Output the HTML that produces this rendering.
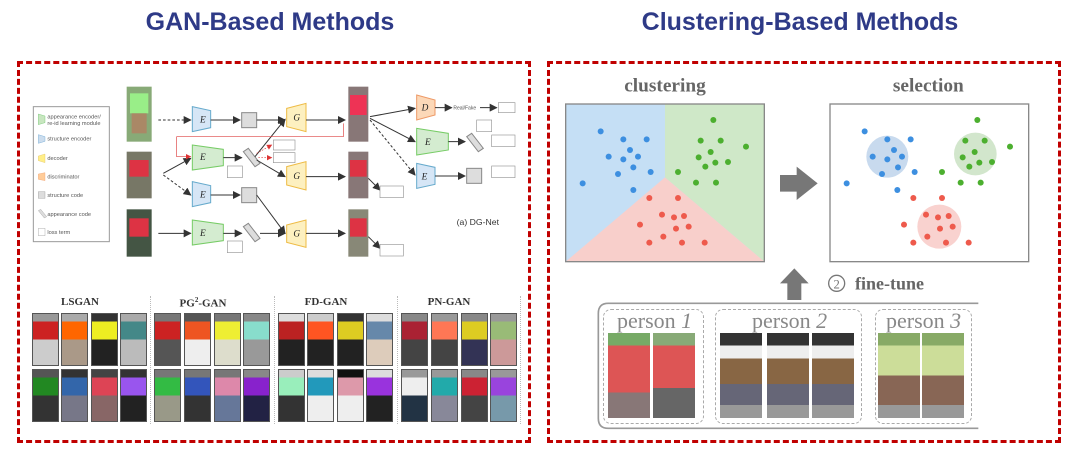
<!DOCTYPE html>
<html><head><meta charset="utf-8"><style>
body{margin:0;width:1080px;height:463px;background:#fff;position:relative;overflow:hidden;font-family:"Liberation Sans",sans-serif}
.t{position:absolute;top:8px;font-weight:bold;font-size:25px;color:#2e3a87;text-align:center}
.box{position:absolute;border:3px dashed #c00000}
.g{position:absolute;width:27px;height:53px;border:1px solid #555;box-sizing:border-box}
.lab{position:absolute;top:296px;font:bold 11px "Liberation Serif",serif;color:#333;text-align:center;width:110px}
.sep{position:absolute;top:296px;height:128px;border-left:1px dotted #bbb}
.ph{position:absolute;width:42px;height:85px}
.pb{position:absolute;border:1.5px dashed #aaa;border-radius:8px}
.pl{position:absolute;font:22px "Liberation Serif",serif;color:#888}
</style></head><body>
<div class="t" style="left:60px;width:420px">GAN-Based Methods</div>
<div class="t" style="left:580px;width:440px">Clustering-Based Methods</div>
<div class="box" style="left:17px;top:61px;width:508px;height:376px"></div>
<div class="box" style="left:547px;top:61px;width:508px;height:376px"></div>

<svg style="position:absolute;left:20px;top:60px" width="510" height="230" viewBox="0 0 1530 690">
<defs><marker id="a" markerWidth="8" markerHeight="8" refX="7" refY="4" orient="auto"><path d="M0,0L8,4L0,8z" fill="#333"/></marker>
<marker id="r" markerWidth="8" markerHeight="8" refX="7" refY="4" orient="auto"><path d="M0,0L8,4L0,8z" fill="#d33"/></marker></defs>
<rect x="40" y="140" width="228" height="405" fill="#fff" stroke="#999" stroke-width="3"/>
<g font-size="17" fill="#555" font-family="Liberation Sans">
<path d="M55,162 L75,168 L75,188 L55,194z" fill="#c8e6c0" stroke="#5b5"/><text x="82" y="175">appearance encoder/</text><text x="82" y="195">re-id learning module</text>
<path d="M55,224 L75,230 L75,244 L55,250z" fill="#cde" stroke="#59c"/><text x="82" y="242">structure encoder</text>
<path d="M55,288 L75,282 L75,308 L55,302z" fill="#fe8" stroke="#db5"/><text x="82" y="300">decoder</text>
<path d="M55,342 L75,338 L75,362 L55,358z" fill="#fc9" stroke="#e96"/><text x="82" y="356">discriminator</text>
<rect x="55" y="395" width="20" height="20" fill="#ddd" stroke="#888"/><text x="82" y="411">structure code</text>
<path d="M55,452 L62,448 L80,470 L73,474z" fill="#ddd" stroke="#888"/><text x="82" y="468">appearance code</text>
<rect x="55" y="505" width="20" height="22" fill="#fff" stroke="#888"/><text x="82" y="522">loss term</text>
<text x="1310" y="495" font-size="26" fill="#333">(a) DG-Net</text>
<text x="1300" y="148" font-size="15">Real/Fake</text>
</g>
<g>
<rect x="320" y="80" width="75" height="165" fill="#8a7"/><rect x="330" y="100" width="55" height="60" fill="#9e8"/><rect x="335" y="160" width="45" height="60" fill="#a86"/>
<rect x="320" y="275" width="75" height="140" fill="#776"/><rect x="328" y="300" width="58" height="50" fill="#d34"/>
<rect x="320" y="448" width="75" height="142" fill="#454"/><rect x="328" y="475" width="58" height="55" fill="#d34"/>
<rect x="985" y="80" width="60" height="165" fill="#877"/><rect x="990" y="105" width="50" height="60" fill="#e35"/>
<rect x="985" y="275" width="60" height="140" fill="#877"/><rect x="990" y="300" width="50" height="50" fill="#d34"/>
<rect x="985" y="448" width="60" height="142" fill="#887"/><rect x="990" y="475" width="50" height="55" fill="#d34"/>
</g>
<g stroke-width="3">
<path d="M517,140 L572,152 L572,203 L517,215z" fill="#d6e6f6" stroke="#6ac"/>
<path d="M517,255 L610,268 L610,317 L517,330z" fill="#d4ecd0" stroke="#7c6"/>
<path d="M517,365 L572,377 L572,428 L517,440z" fill="#d6e6f6" stroke="#6ac"/>
<path d="M517,480 L610,493 L610,542 L517,555z" fill="#d4ecd0" stroke="#7c6"/>
<path d="M800,145 L858,130 L858,215 L800,200z" fill="#fdf0c0" stroke="#eb4"/>
<path d="M800,320 L858,305 L858,390 L800,375z" fill="#fdf0c0" stroke="#eb4"/>
<path d="M800,495 L858,480 L858,562 L800,547z" fill="#fdf0c0" stroke="#eb4"/>
<path d="M1190,105 L1245,120 L1245,165 L1190,180z" fill="#fcd8b8" stroke="#e96"/>
<path d="M1190,205 L1285,220 L1285,270 L1190,285z" fill="#d4ecd0" stroke="#7c6"/>
<path d="M1190,310 L1245,322 L1245,373 L1190,385z" fill="#d6e6f6" stroke="#6ac"/>
<rect x="665" y="158" width="45" height="45" fill="#ddd" stroke="#888"/><rect x="665" y="383" width="45" height="45" fill="#ddd" stroke="#888"/><rect x="1340" y="325" width="45" height="45" fill="#ddd" stroke="#888"/>
<path d="M670,275 L685,265 L720,310 L705,320z" fill="#ddd" stroke="#888"/><path d="M670,500 L685,490 L720,535 L705,545z" fill="#ddd" stroke="#888"/><path d="M1340,230 L1355,220 L1390,265 L1375,275z" fill="#ddd" stroke="#888"/>
</g>
<g font-family="Liberation Serif" font-style="italic" font-size="28" fill="#222">
<text x="540" y="188">E</text><text x="540" y="300">E</text><text x="540" y="412">E</text><text x="540" y="528">E</text>
<text x="820" y="182">G</text><text x="820" y="357">G</text><text x="820" y="530">G</text>
<text x="1205" y="152">D</text><text x="1215" y="255">E</text><text x="1205" y="358">E</text>
</g>
<g stroke="#333" stroke-width="3" fill="none" marker-end="url(#a)">
<path d="M415,180 L512,180" stroke-dasharray="8,6"/><path d="M572,180 L660,180"/><path d="M710,180 L795,180"/><path d="M858,180 L975,180"/>
<path d="M430,340 L512,295"/><path d="M430,345 L512,405" stroke-dasharray="8,6"/><path d="M610,293 L665,293"/><path d="M572,405 L660,405"/>
<path d="M705,290 L795,178"/><path d="M710,300 L795,350"/><path d="M710,405 L795,520"/><path d="M858,350 L975,350"/>
<path d="M415,520 L512,520"/><path d="M610,520 L665,520"/><path d="M720,520 L795,520"/><path d="M858,520 L975,520"/>
<path d="M1050,170 L1185,145"/><path d="M1050,175 L1185,245"/><path d="M1050,180 L1185,345" stroke-dasharray="8,6"/>
<path d="M1245,143 L1295,143"/><path d="M1380,143 L1430,143"/><path d="M1285,245 L1335,245"/><path d="M1245,348 L1335,348"/>
<path d="M1045,355 L1080,390"/><path d="M1045,530 L1080,565"/>
</g>
<path d="M970,190 L970,230 L470,230 L470,290 L512,290" stroke="#d44" stroke-width="2" fill="none" marker-end="url(#r)"/>
<path d="M710,280 L755,255" stroke="#d44" stroke-width="2" stroke-dasharray="5,4" fill="none" marker-end="url(#r)"/>
<path d="M715,293 L755,293" stroke="#d44" stroke-width="2" stroke-dasharray="5,4" fill="none" marker-end="url(#r)"/>
<g fill="#fff" stroke="#999" stroke-width="2">
<rect x="760" y="240" width="65" height="30"/><rect x="760" y="278" width="65" height="30"/><rect x="622" y="318" width="45" height="35"/><rect x="622" y="543" width="45" height="35"/>
<rect x="1080" y="378" width="70" height="35"/><rect x="1080" y="553" width="70" height="35"/><rect x="1435" y="128" width="50" height="30"/>
<rect x="1370" y="180" width="45" height="35"/><rect x="1415" y="225" width="70" height="35"/><rect x="1415" y="318" width="70" height="35"/>
</g>
</svg>

<div class="lab" style="left:25px">LSGAN</div><div class="lab" style="left:148px">PG<sup style="font-size:7px">2</sup>-GAN</div><div class="lab" style="left:271px">FD-GAN</div><div class="lab" style="left:394px">PN-GAN</div>
<div class="sep" style="left:150px"></div><div class="sep" style="left:274px"></div><div class="sep" style="left:397px"></div><div class="sep" style="left:520px"></div>

<div class="g" style="left:32px;top:313px;background:linear-gradient(#999 0 15%,#c22 15% 50%,#ccc 50%)"></div>
<div class="g" style="left:61px;top:313px;background:linear-gradient(#aaa 0 15%,#f60 15% 50%,#a98 50%)"></div>
<div class="g" style="left:91px;top:313px;background:linear-gradient(#333 0 15%,#ee2 15% 50%,#222 50%)"></div>
<div class="g" style="left:120px;top:313px;background:linear-gradient(#aaa 0 15%,#488 15% 50%,#bbb 50%)"></div>
<div class="g" style="left:154px;top:313px;background:linear-gradient(#777 0 15%,#c22 15% 50%,#555 50%)"></div>
<div class="g" style="left:184px;top:313px;background:linear-gradient(#555 0 15%,#e52 15% 50%,#eee 50%)"></div>
<div class="g" style="left:214px;top:313px;background:linear-gradient(#777 0 15%,#ee3 15% 50%,#ddc 50%)"></div>
<div class="g" style="left:243px;top:313px;background:linear-gradient(#888 0 15%,#8dc 15% 50%,#999 50%)"></div>
<div class="g" style="left:278px;top:313px;background:linear-gradient(#ddd 0 15%,#b22 15% 50%,#222 50%)"></div>
<div class="g" style="left:307px;top:313px;background:linear-gradient(#ccc 0 15%,#f52 15% 50%,#222 50%)"></div>
<div class="g" style="left:337px;top:313px;background:linear-gradient(#333 0 15%,#dc2 15% 50%,#222 50%)"></div>
<div class="g" style="left:366px;top:313px;background:linear-gradient(#ddd 0 15%,#68a 15% 50%,#dcb 50%)"></div>
<div class="g" style="left:401px;top:313px;background:linear-gradient(#888 0 15%,#a23 15% 50%,#444 50%)"></div>
<div class="g" style="left:431px;top:313px;background:linear-gradient(#999 0 15%,#f75 15% 50%,#444 50%)"></div>
<div class="g" style="left:461px;top:313px;background:linear-gradient(#888 0 15%,#dc2 15% 50%,#335 50%)"></div>
<div class="g" style="left:490px;top:313px;background:linear-gradient(#999 0 15%,#9b7 15% 50%,#c99 50%)"></div>
<div class="g" style="left:32px;top:369px;background:linear-gradient(#555 0 15%,#282 15% 50%,#333 50%)"></div>
<div class="g" style="left:61px;top:369px;background:linear-gradient(#333 0 15%,#36a 15% 50%,#778 50%)"></div>
<div class="g" style="left:91px;top:369px;background:linear-gradient(#444 0 15%,#d45 15% 50%,#866 50%)"></div>
<div class="g" style="left:120px;top:369px;background:linear-gradient(#333 0 15%,#95e 15% 50%,#222 50%)"></div>
<div class="g" style="left:154px;top:369px;background:linear-gradient(#777 0 15%,#3b4 15% 50%,#998 50%)"></div>
<div class="g" style="left:184px;top:369px;background:linear-gradient(#777 0 15%,#35b 15% 50%,#333 50%)"></div>
<div class="g" style="left:214px;top:369px;background:linear-gradient(#777 0 15%,#d8a 15% 50%,#679 50%)"></div>
<div class="g" style="left:243px;top:369px;background:linear-gradient(#888 0 15%,#82c 15% 50%,#224 50%)"></div>
<div class="g" style="left:278px;top:369px;background:linear-gradient(#ccc 0 15%,#9eb 15% 50%,#333 50%)"></div>
<div class="g" style="left:307px;top:369px;background:linear-gradient(#ddd 0 15%,#29b 15% 50%,#eee 50%)"></div>
<div class="g" style="left:337px;top:369px;background:linear-gradient(#111 0 15%,#d9a 15% 50%,#eee 50%)"></div>
<div class="g" style="left:366px;top:369px;background:linear-gradient(#ddd 0 15%,#93d 15% 50%,#222 50%)"></div>
<div class="g" style="left:401px;top:369px;background:linear-gradient(#999 0 15%,#eee 15% 50%,#234 50%)"></div>
<div class="g" style="left:431px;top:369px;background:linear-gradient(#999 0 15%,#2aa 15% 50%,#889 50%)"></div>
<div class="g" style="left:461px;top:369px;background:linear-gradient(#888 0 15%,#c23 15% 50%,#444 50%)"></div>
<div class="g" style="left:490px;top:369px;background:linear-gradient(#999 0 15%,#94d 15% 50%,#79a 50%)"></div>

<svg style="position:absolute;left:550px;top:60px" width="510" height="380" viewBox="0 0 1530 1140">
<g font-family="Liberation Serif" font-weight="bold" fill="#666" font-size="58" text-anchor="middle">
<text x="345" y="95">clustering</text><text x="1135" y="95">selection</text></g>
<rect x="47" y="132" width="596" height="473" fill="#c5dff5"/>
<polygon points="345,132 643,132 643,605 345,352" fill="#cfe8c8"/>
<polygon points="47,605 345,352 643,605" fill="#f8cfcb"/>
<rect x="47" y="132" width="596" height="473" fill="none" stroke="#888" stroke-width="4"/>
<rect x="840" y="132" width="596" height="473" fill="#fff" stroke="#888" stroke-width="4"/>
<circle cx="1012" cy="290" r="63" fill="#c8daee"/><circle cx="1276" cy="282" r="64" fill="#d2e6cc"/><circle cx="1168" cy="500" r="66" fill="#f9d2cf"/>
<g fill="#3d8fe0">
<circle cx="152" cy="214" r="9"/><circle cx="220" cy="238" r="9"/><circle cx="290" cy="238" r="9"/><circle cx="240" cy="270" r="9"/><circle cx="176" cy="290" r="9"/><circle cx="220" cy="298" r="9"/><circle cx="264" cy="290" r="9"/><circle cx="250" cy="322" r="9"/><circle cx="204" cy="342" r="9"/><circle cx="302" cy="336" r="9"/><circle cx="98" cy="370" r="9"/><circle cx="250" cy="390" r="9"/>
<circle cx="944" cy="214" r="9"/><circle cx="1012" cy="238" r="9"/><circle cx="1082" cy="238" r="9"/><circle cx="1032" cy="270" r="9"/><circle cx="968" cy="290" r="9"/><circle cx="1012" cy="298" r="9"/><circle cx="1056" cy="290" r="9"/><circle cx="1044" cy="322" r="9"/><circle cx="996" cy="342" r="9"/><circle cx="1094" cy="336" r="9"/><circle cx="890" cy="370" r="9"/><circle cx="1042" cy="390" r="9"/></g>
<g fill="#4caf2f">
<circle cx="490" cy="180" r="9"/><circle cx="452" cy="242" r="9"/><circle cx="512" cy="242" r="9"/><circle cx="588" cy="260" r="9"/><circle cx="482" cy="276" r="9"/><circle cx="446" cy="292" r="9"/><circle cx="496" cy="308" r="9"/><circle cx="534" cy="306" r="9"/><circle cx="466" cy="320" r="9"/><circle cx="384" cy="336" r="9"/><circle cx="438" cy="368" r="9"/><circle cx="498" cy="368" r="9"/>
<circle cx="1282" cy="180" r="9"/><circle cx="1246" cy="242" r="9"/><circle cx="1304" cy="242" r="9"/><circle cx="1380" cy="260" r="9"/><circle cx="1274" cy="276" r="9"/><circle cx="1238" cy="292" r="9"/><circle cx="1288" cy="308" r="9"/><circle cx="1326" cy="306" r="9"/><circle cx="1258" cy="320" r="9"/><circle cx="1176" cy="336" r="9"/><circle cx="1232" cy="368" r="9"/><circle cx="1292" cy="368" r="9"/></g>
<g fill="#ee5a4c">
<circle cx="298" cy="414" r="9"/><circle cx="384" cy="414" r="9"/><circle cx="336" cy="464" r="9"/><circle cx="372" cy="472" r="9"/><circle cx="402" cy="468" r="9"/><circle cx="270" cy="494" r="9"/><circle cx="378" cy="506" r="9"/><circle cx="416" cy="500" r="9"/><circle cx="340" cy="530" r="9"/><circle cx="298" cy="548" r="9"/><circle cx="396" cy="548" r="9"/><circle cx="464" cy="548" r="9"/>
<circle cx="1090" cy="414" r="9"/><circle cx="1176" cy="414" r="9"/><circle cx="1128" cy="464" r="9"/><circle cx="1164" cy="472" r="9"/><circle cx="1196" cy="468" r="9"/><circle cx="1062" cy="494" r="9"/><circle cx="1170" cy="506" r="9"/><circle cx="1208" cy="500" r="9"/><circle cx="1132" cy="530" r="9"/><circle cx="1090" cy="548" r="9"/><circle cx="1188" cy="548" r="9"/><circle cx="1256" cy="548" r="9"/></g>
<polygon points="690,345 740,345 740,320 803,370 740,420 740,395 690,395" fill="#777"/>
<polygon points="712,720 712,670 690,670 733,625 776,670 754,670 754,720" fill="#777"/>
<circle cx="860" cy="670" r="24" fill="none" stroke="#777" stroke-width="4"/>
<text x="860" y="686" font-family="Liberation Serif" font-size="38" fill="#777" text-anchor="middle">2</text>
<text x="915" y="688" font-family="Liberation Serif" font-weight="bold" font-size="54" fill="#666">fine-tune</text>
<path d="M1285,730 L175,730 Q145,730 145,760 L145,1075 Q145,1105 175,1105 L1285,1105" fill="none" stroke="#999" stroke-width="5"/>
</svg>

<div class="pb" style="left:603px;top:309px;width:99px;height:113px"></div>
<div class="pb" style="left:715px;top:309px;width:145px;height:113px"></div>
<div class="pb" style="left:875px;top:309px;width:95px;height:113px"></div>
<div class="pl" style="left:617px;top:308px">person <i>1</i></div>
<div class="pl" style="left:752px;top:308px">person <i>2</i></div>
<div class="pl" style="left:886px;top:308px">person <i>3</i></div>
<div class="ph" style="left:608px;top:333px;background:linear-gradient(#7a6 0 15%,#d55 15% 70%,#877 70%)"></div>
<div class="ph" style="left:653px;top:333px;background:linear-gradient(#8a7 0 15%,#d55 15% 65%,#666 65%)"></div>
<div class="ph" style="left:720px;top:333px;background:linear-gradient(#333 0 15%,#eee 15% 30%,#864 30% 60%,#667 60% 85%,#999 85%)"></div>
<div class="ph" style="left:767px;top:333px;background:linear-gradient(#333 0 15%,#eee 15% 30%,#864 30% 60%,#667 60% 85%,#999 85%)"></div>
<div class="ph" style="left:812px;top:333px;background:linear-gradient(#333 0 15%,#eee 15% 30%,#864 30% 60%,#667 60% 85%,#999 85%)"></div>
<div class="ph" style="left:878px;top:333px;background:linear-gradient(#8a6 0 15%,#cd9 15% 50%,#865 50% 85%,#999 85%)"></div>
<div class="ph" style="left:922px;top:333px;background:linear-gradient(#8a6 0 15%,#cd9 15% 50%,#865 50% 85%,#999 85%)"></div>
</body></html>
